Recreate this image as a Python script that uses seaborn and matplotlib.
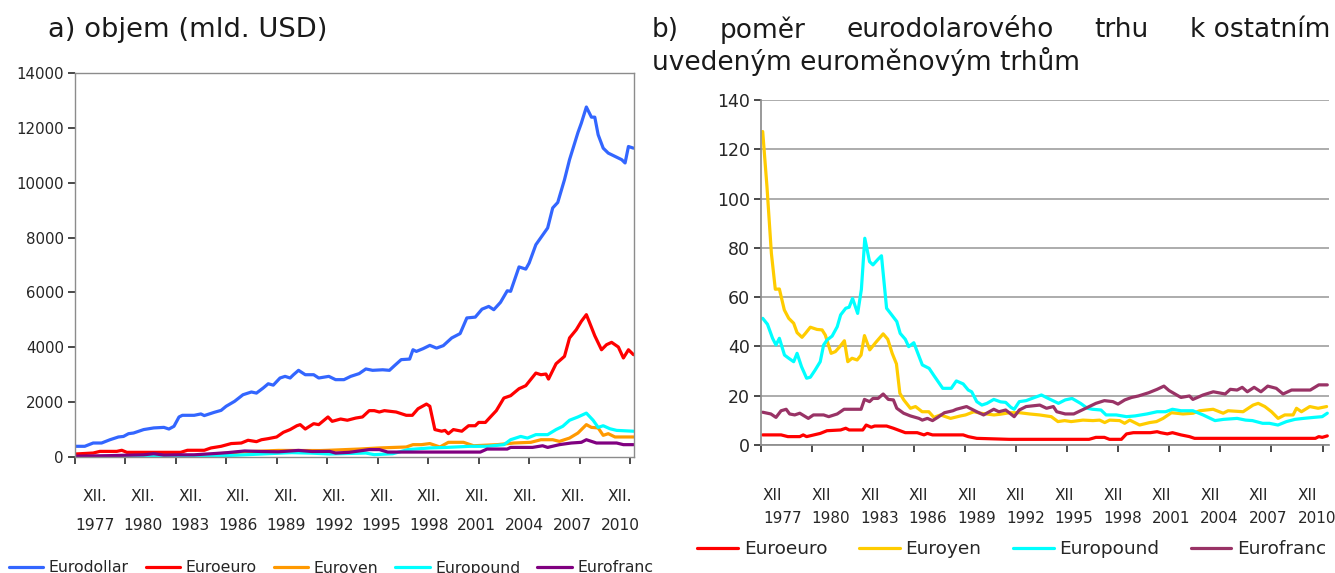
import matplotlib
matplotlib.use("Agg")
import matplotlib.pyplot as plt
from matplotlib.ticker import FixedLocator, FixedFormatter, NullFormatter
import seaborn as sns

sns.set_theme(style="white")
plt.rcParams["font.family"] = ["DejaVu Sans"]

# ---- a) objem (mld. USD): (rok, hodnota) ----
eurodollar = [(1977.95, 390), (1978.5, 390), (1979.0, 510), (1979.5, 510), (1980.0, 630), (1980.5, 730),
              (1980.8, 750), (1981.1, 850), (1981.4, 875), (1982.0, 1000), (1982.6, 1060), (1983.2, 1080),
              (1983.5, 1020), (1983.8, 1120), (1984.1, 1460), (1984.3, 1520), (1985.0, 1520), (1985.4, 1570),
              (1985.6, 1510), (1986.2, 1630), (1986.6, 1700), (1986.9, 1850), (1987.4, 2030), (1987.9, 2270),
              (1988.4, 2370), (1988.7, 2330), (1989.1, 2515), (1989.4, 2670), (1989.7, 2620), (1990.1, 2880),
              (1990.4, 2940), (1990.7, 2880), (1990.9, 3000), (1991.2, 3160), (1991.6, 3000), (1992.1, 3000),
              (1992.4, 2880), (1993.0, 2940), (1993.4, 2820), (1993.9, 2820), (1994.3, 2940), (1994.8, 3040),
              (1995.2, 3210), (1995.6, 3160), (1996.2, 3180), (1996.6, 3160), (1996.9, 3330), (1997.3, 3550),
              (1997.8, 3570), (1998.0, 3910), (1998.2, 3850), (1998.6, 3950), (1999.0, 4070), (1999.4, 3970),
              (1999.8, 4060), (2000.3, 4340), (2000.8, 4500), (2001.2, 5070), (2001.7, 5100), (2002.1, 5390),
              (2002.5, 5490), (2002.8, 5370), (2003.2, 5640), (2003.6, 6060), (2003.8, 6040), (2004.3, 6930),
              (2004.7, 6850), (2004.9, 7070), (2005.3, 7740), (2006.0, 8350), (2006.3, 9080), (2006.6, 9280),
              (2007.0, 10110), (2007.3, 10840), (2007.8, 11830), (2008.0, 12170), (2008.3, 12760),
              (2008.6, 12390), (2008.8, 12390), (2009.0, 11750), (2009.3, 11260), (2009.6, 11080),
              (2010.0, 10960), (2010.4, 10840), (2010.6, 10720), (2010.8, 11320), (2011.1, 11260)]
euroeuro = [(1977.95, 110), (1979.0, 145), (1979.4, 205), (1980.4, 205), (1980.7, 245), (1981.0, 170),
            (1984.2, 170), (1984.6, 245), (1985.6, 245), (1986.0, 330), (1986.6, 390), (1987.2, 490),
            (1987.8, 510), (1988.2, 610), (1988.7, 560), (1989.0, 630), (1989.4, 670), (1989.9, 730),
            (1990.3, 900), (1990.7, 1000), (1991.1, 1140), (1991.3, 1180), (1991.6, 1020), (1992.1, 1215),
            (1992.4, 1180), (1992.95, 1460), (1993.2, 1300), (1993.7, 1385), (1994.1, 1340), (1994.6, 1420),
            (1995.0, 1460), (1995.4, 1690), (1995.7, 1690), (1996.0, 1640), (1996.3, 1690), (1997.0, 1640),
            (1997.6, 1520), (1997.96, 1520), (1998.3, 1760), (1998.8, 1930), (1999.0, 1850), (1999.3, 1000),
            (1999.7, 940), (1999.9, 970), (2000.1, 850), (2000.4, 1000), (2000.9, 940), (2001.3, 1140),
            (2001.7, 1140), (2001.9, 1260), (2002.3, 1260), (2002.6, 1460), (2002.95, 1690), (2003.4, 2150),
            (2003.8, 2235), (2004.3, 2490), (2004.7, 2600), (2005.3, 3060), (2005.6, 3000), (2005.9, 3025),
            (2006.05, 2840), (2006.5, 3400), (2007.0, 3670), (2007.3, 4340), (2007.7, 4640), (2008.0, 4945),
            (2008.3, 5190), (2008.5, 4885), (2008.8, 4420), (2009.2, 3910), (2009.5, 4095), (2009.8, 4180),
            (2010.2, 4010), (2010.5, 3610), (2010.8, 3910), (2011.1, 3730)]
euroyen = [(1977.95, 3), (1980.0, 14), (1983.0, 30), (1985.0, 37), (1985.9, 60), (1986.5, 120), (1988.0, 190),
           (1990.0, 240), (1992.5, 235), (1993.0, 245), (1994.8, 290), (1996.0, 330), (1997.6, 365),
           (1998.0, 450), (1998.5, 450), (1999.0, 490), (1999.6, 365), (2000.1, 535), (2001.0, 535),
           (2001.6, 410), (2003.0, 450), (2004.0, 510), (2005.0, 535), (2005.6, 630), (2006.3, 630),
           (2006.7, 570), (2007.3, 690), (2007.8, 875), (2008.3, 1180), (2008.6, 1080), (2009.0, 1060),
           (2009.3, 790), (2009.6, 850), (2010.0, 730), (2011.1, 730)]
europound = [(1977.95, 8), (1980.0, 17), (1981.0, 30), (1983.3, 18), (1984.0, 17), (1985.0, 20), (1986.0, 36),
             (1987.5, 66), (1989.0, 109), (1990.8, 160), (1992.0, 140), (1993.05, 110), (1995.2, 145),
             (1995.7, 85), (1996.8, 120), (1997.7, 270), (1999.0, 330), (2000.0, 350), (2001.4, 390),
             (2002.4, 390), (2003.4, 450), (2003.8, 630), (2004.4, 750), (2004.8, 690), (2005.3, 815),
             (2006.0, 815), (2006.5, 1000), (2006.9, 1120), (2007.3, 1340), (2007.8, 1460), (2008.3, 1600),
             (2008.7, 1340), (2009.0, 1080), (2009.3, 1140), (2009.7, 1030), (2010.1, 970), (2011.1, 940)]
eurofranc = [(1977.95, 30), (1980.0, 50), (1982.0, 80), (1982.6, 120), (1983.2, 70), (1984.1, 80), (1985.0, 80),
             (1986.3, 130), (1987.0, 160), (1988.0, 220), (1989.0, 200), (1990.0, 190), (1991.2, 240),
             (1992.0, 200), (1993.05, 205), (1993.4, 145), (1994.2, 170), (1995.4, 270), (1996.0, 270),
             (1996.5, 180), (2002.0, 180), (2002.4, 290), (2003.6, 290), (2003.8, 350), (2005.1, 350),
             (2005.7, 410), (2006.0, 350), (2006.7, 450), (2007.4, 510), (2008.0, 535), (2008.3, 630),
             (2008.9, 510), (2010.1, 510), (2010.5, 450), (2011.1, 450)]

# ---- b) pomer eurodolaroveho trhu k ostatnim ----
r_euroeuro = [(1978.02, 4.1), (1979.1, 4.1), (1979.5, 3.4), (1980.2, 3.4), (1980.4, 4.1), (1980.6, 3.4),
              (1981.4, 4.7), (1981.8, 5.8), (1982.6, 6.1), (1982.9, 6.8), (1983.1, 6.1), (1983.9, 6.1),
              (1984.1, 8.1), (1984.4, 7.2), (1984.6, 7.7), (1985.3, 7.7), (1985.7, 6.8), (1986.4, 5.0),
              (1987.1, 5.0), (1987.5, 4.1), (1987.7, 4.7), (1988.0, 4.1), (1989.8, 4.1), (1990.1, 3.4),
              (1990.6, 2.7), (1992.5, 2.3), (1997.2, 2.3), (1997.6, 3.1), (1998.1, 3.1), (1998.4, 2.3),
              (1999.1, 2.3), (1999.4, 4.5), (1999.8, 5.0), (2000.8, 5.0), (2001.2, 5.4), (2001.4, 5.0),
              (2001.8, 4.5), (2002.1, 5.0), (2002.6, 4.1), (2003.1, 3.4), (2003.4, 2.7), (2010.5, 2.7),
              (2010.7, 3.4), (2010.9, 3.1), (2011.2, 3.7)]
r_euroyen = [(1978.02, 127.2), (1978.27, 104.9), (1978.53, 77.8), (1978.76, 63.2), (1979.0, 63.3),
             (1979.29, 54.8), (1979.55, 51.4), (1979.84, 49.4), (1980.04, 45.6), (1980.33, 43.7),
             (1980.53, 45.3), (1980.82, 47.8), (1981.21, 46.9), (1981.51, 46.7), (1981.7, 44.6),
             (1982.04, 37.2), (1982.29, 37.9), (1982.55, 39.9), (1982.82, 42.3), (1983.02, 33.8),
             (1983.27, 35.2), (1983.57, 34.5), (1983.8, 36.5), (1984.0, 44.4), (1984.31, 38.6),
             (1984.65, 41.5), (1985.1, 45.1), (1985.37, 42.9), (1985.63, 37.2), (1985.88, 32.9),
             (1986.08, 21.0), (1986.31, 18.3), (1986.7, 14.9), (1987.0, 15.6), (1987.39, 13.5),
             (1987.78, 13.5), (1988.08, 11.2), (1988.47, 12.2), (1989.06, 10.8), (1989.65, 11.8),
             (1989.94, 12.2), (1990.43, 13.5), (1990.82, 12.9), (1991.61, 12.2), (1992.0, 12.5),
             (1992.53, 13.1), (1993.12, 13.1), (1993.7, 12.6), (1994.29, 12.2), (1994.98, 11.5),
             (1995.37, 9.5), (1995.76, 9.9), (1996.15, 9.5), (1996.84, 10.1), (1997.43, 9.9), (1997.82, 10.1),
             (1998.12, 9.1), (1998.41, 10.1), (1999.0, 9.9), (1999.29, 8.8), (1999.59, 10.1), (2000.17, 8.1),
             (2000.76, 9.1), (2001.16, 9.5), (2001.55, 10.8), (2002.04, 13.1), (2002.72, 12.6),
             (2003.31, 12.9), (2003.7, 13.9), (2004.49, 14.5), (2005.08, 12.9), (2005.37, 13.9),
             (2006.25, 13.5), (2006.84, 16.2), (2007.14, 16.9), (2007.53, 15.6), (2007.92, 13.5),
             (2008.31, 10.8), (2008.7, 12.2), (2009.19, 12.2), (2009.39, 14.9), (2009.68, 13.5),
             (2010.17, 15.6), (2010.66, 14.9), (2011.16, 15.6)]
r_europound = [(1978.02, 51.4), (1978.3, 49.0), (1978.6, 43.3), (1978.8, 40.6), (1979.0, 43.3), (1979.3, 36.5),
               (1979.55, 35.2), (1979.84, 33.8), (1980.04, 37.2), (1980.3, 31.8), (1980.6, 27.1), (1980.82, 27.5),
               (1981.1, 30.4), (1981.4, 33.8), (1981.6, 40.6), (1981.8, 42.6), (1982.1, 44.2), (1982.4, 48.0),
               (1982.6, 52.8), (1982.9, 55.5), (1983.1, 55.9), (1983.3, 59.5), (1983.6, 53.4), (1983.82, 63.2),
               (1984.02, 83.9), (1984.3, 74.4), (1984.5, 73.1), (1984.8, 75.4), (1985.0, 76.8), (1985.3, 55.5),
               (1985.6, 52.8), (1985.9, 50.1), (1986.1, 45.3), (1986.4, 42.9), (1986.6, 39.9), (1986.9, 41.5),
               (1987.1, 37.9), (1987.4, 32.5), (1987.8, 31.1), (1988.1, 28.0), (1988.6, 23.0), (1989.1, 23.0),
               (1989.4, 26.0), (1989.8, 24.8), (1990.1, 22.3), (1990.3, 21.6), (1990.6, 17.6), (1990.9, 16.2),
               (1991.2, 16.9), (1991.6, 18.5), (1992.0, 17.5), (1992.3, 17.3), (1992.6, 15.3), (1992.8, 14.5),
               (1993.1, 17.6), (1993.5, 18.0), (1994.0, 19.3), (1994.4, 20.3), (1994.8, 18.9), (1995.4, 16.9),
               (1995.8, 18.3), (1996.2, 18.9), (1996.7, 16.9), (1997.1, 14.9), (1997.4, 14.5), (1997.9, 14.2),
               (1998.2, 12.2), (1998.8, 12.2), (1999.4, 11.5), (1999.9, 11.8), (2000.6, 12.6), (2001.2, 13.5),
               (2001.7, 13.5), (2002.1, 14.5), (2002.6, 13.9), (2003.3, 13.9), (2003.9, 12.2), (2004.6, 9.9),
               (2005.1, 10.4), (2005.9, 10.8), (2006.4, 10.1), (2006.8, 9.9), (2007.4, 8.8), (2007.8, 8.8),
               (2008.3, 8.1), (2008.8, 9.5), (2009.3, 10.4), (2009.8, 10.8), (2010.4, 11.2), (2010.9, 11.5),
               (2011.2, 12.9)]
r_eurofranc = [(1978.02, 13.3), (1978.5, 12.6), (1978.8, 11.2), (1979.1, 13.9), (1979.4, 14.5), (1979.6, 12.6),
               (1979.9, 12.2), (1980.2, 12.9), (1980.7, 10.8), (1981.0, 12.2), (1981.6, 12.2), (1981.9, 11.5),
               (1982.4, 12.6), (1982.8, 14.5), (1983.8, 14.5), (1984.0, 18.5), (1984.3, 17.6), (1984.5, 18.9),
               (1984.8, 18.9), (1985.1, 20.7), (1985.4, 18.5), (1985.7, 18.3), (1985.9, 14.9), (1986.3, 12.9),
               (1986.7, 11.8), (1987.2, 10.8), (1987.4, 10.1), (1987.7, 10.8), (1988.0, 9.9), (1988.3, 11.2),
               (1988.7, 13.1), (1989.2, 13.9), (1989.4, 14.5), (1990.0, 15.6), (1990.6, 13.5), (1991.0, 12.2),
               (1991.6, 14.5), (1991.9, 13.5), (1992.3, 14.2), (1992.8, 11.5), (1993.1, 14.2), (1993.5, 15.6),
               (1994.3, 16.2), (1994.7, 14.9), (1995.1, 15.6), (1995.3, 13.5), (1995.8, 12.6), (1996.3, 12.6),
               (1997.0, 14.9), (1997.6, 16.9), (1998.1, 18.0), (1998.6, 17.6), (1998.9, 16.6), (1999.3, 18.3),
               (1999.7, 19.3), (2000.1, 19.9), (2000.7, 21.2), (2001.2, 22.6), (2001.6, 23.9), (2001.9, 22.1),
               (2002.6, 19.3), (2003.1, 19.9), (2003.3, 18.5), (2003.9, 20.3), (2004.5, 21.6), (2005.2, 20.7),
               (2005.5, 22.6), (2005.9, 22.3), (2006.2, 23.4), (2006.5, 21.6), (2006.9, 23.4), (2007.3, 21.6),
               (2007.7, 23.9), (2008.2, 23.0), (2008.6, 20.7), (2009.1, 22.3), (2010.2, 22.3), (2010.7, 24.4),
               (2011.2, 24.4)]

left_series = [("Eurodollar", eurodollar, "#3366ff"), ("Euroeuro", euroeuro, "#ff0000"),
               ("Euroyen", euroyen, "#ff9900"), ("Europound", europound, "#00ffff"),
               ("Eurofranc", eurofranc, "#800080")]
right_series = [("Euroeuro", r_euroeuro, "#ff0000"), ("Euroyen", r_euroyen, "#ffcc00"),
                ("Europound", r_europound, "#00ffff"), ("Eurofranc", r_eurofranc, "#993366")]

tick_years = [1977 + 3 * i for i in range(12)]
tick_labels_a = ["XII.\n%d" % y for y in tick_years]
tick_labels_b = ["XII\n%d" % y for y in tick_years]

W, H = 1335, 573
fig = plt.figure(figsize=(W / 100, H / 100), dpi=100)
ax1 = fig.add_axes([75 / W, 1 - 457 / H, 559 / W, 384 / H])
ax2 = fig.add_axes([761 / W, 1 - 445 / H, 568 / W, 345 / H])

for name, pts, col in left_series:
    sns.lineplot(x=[p[0] for p in pts], y=[p[1] for p in pts], color=col, lw=2.3,
                 label=name, ax=ax1, legend=False)
for name, pts, col in right_series:
    sns.lineplot(x=[p[0] for p in pts], y=[p[1] for p in pts], color=col, lw=2.3,
                 label=name, ax=ax2, legend=False)

major = [y + 0.92 for y in tick_years]

# left panel
ax1.set_xlim(1977.92, 2011.13)
ax1.set_ylim(0, 14000)
ax1.set_yticks(range(0, 14001, 2000))
ax1.xaxis.set_major_locator(FixedLocator(major))
ax1.xaxis.set_major_formatter(NullFormatter())
pos_a = [1979.1 + i * (2010.3 - 1979.1) / 11 for i in range(12)]
ax1.xaxis.set_minor_locator(FixedLocator(pos_a))
ax1.xaxis.set_minor_formatter(FixedFormatter(tick_labels_a))
ax1.tick_params(axis="x", which="major", length=5, color="#333333", direction="out", bottom=True)
ax1.tick_params(axis="x", which="minor", length=0, pad=23, labelsize=11.2, bottom=True)
ax1.tick_params(axis="y", length=5, color="#333333", direction="out", left=True, labelsize=10.8, pad=3)
for lab in ax1.get_xticklabels(minor=True):
    lab.set_linespacing(2.2)
for s in ax1.spines.values():
    s.set_color("#8c8c8c")
    s.set_linewidth(1.0)
ax1.set_xlabel("")
ax1.set_ylabel("")

# right panel
ax2.set_xlim(1977.92, 2011.3)
ax2.set_ylim(0, 140)
ax2.set_yticks(range(0, 141, 20))
ax2.yaxis.grid(True, color="#a6a6a6", lw=1.3)
ax2.set_axisbelow(True)
ax2.xaxis.set_major_locator(FixedLocator(major))
ax2.xaxis.set_major_formatter(NullFormatter())
pos_b = [1978.04 + i * (2009.45 - 1978.04) / 11 for i in range(12)]
ax2.xaxis.set_minor_locator(FixedLocator(pos_b))
ax2.xaxis.set_minor_formatter(FixedFormatter(tick_labels_b))
ax2.tick_params(axis="x", which="major", length=5, color="#333333", direction="out", bottom=True)
ax2.tick_params(axis="x", which="minor", length=0, pad=31, labelsize=11, bottom=True)
ax2.tick_params(axis="y", length=5, color="#333333", direction="out", left=True, labelsize=12.5, pad=3)
for lab in ax2.get_xticklabels(minor=True):
    lab.set_linespacing(1.7)
    lab.set_horizontalalignment("left")
    lab.set_multialignment("left")
ax2.spines["top"].set_visible(False)
ax2.spines["right"].set_visible(False)
ax2.spines["left"].set_color("#8c8c8c")
ax2.spines["bottom"].set_color("#8c8c8c")
ax2.set_xlabel("")
ax2.set_ylabel("")

# titles
fig.text(48 / W, 1 - 30 / H, "a) objem (mld. USD)", fontsize=19.7, va="center", ha="left", color="#1a1a1a")
words = ["b)", "poměr", "eurodolarového", "trhu", "k ostatním"]
wtexts = [fig.text(652 / W, 1 - 30 / H, w, fontsize=19, va="center", ha="left", color="#1a1a1a")
          for w in words]
fig.text(652 / W, 1 - 61 / H, "uvedeným euroměnovým trhům", fontsize=19, va="center", ha="left",
         color="#1a1a1a")
fig.canvas.draw()
rend = fig.canvas.get_renderer()
widths = [t.get_window_extent(rend).width for t in wtexts]
gap = (1330 - 652 - sum(widths)) / (len(words) - 1)
xx = 652
for t, w in zip(wtexts, widths):
    t.set_x(xx / W)
    xx += w + gap

# legends
h1, l1 = ax1.get_legend_handles_labels()
fig.legend(h1, l1, loc="center", bbox_to_anchor=(331 / W, 1 - 568 / H), ncol=5, frameon=False,
           fontsize=11.3, handlelength=2.2, handletextpad=0.35, columnspacing=1.08)
h2, l2 = ax2.get_legend_handles_labels()
fig.legend(h2, l2, loc="center", bbox_to_anchor=(1012 / W, 1 - 549 / H), ncol=4, frameon=False,
           fontsize=13.3, handlelength=2.2, handletextpad=0.32, columnspacing=1.7)

fig.savefig("out.png", dpi=100)
